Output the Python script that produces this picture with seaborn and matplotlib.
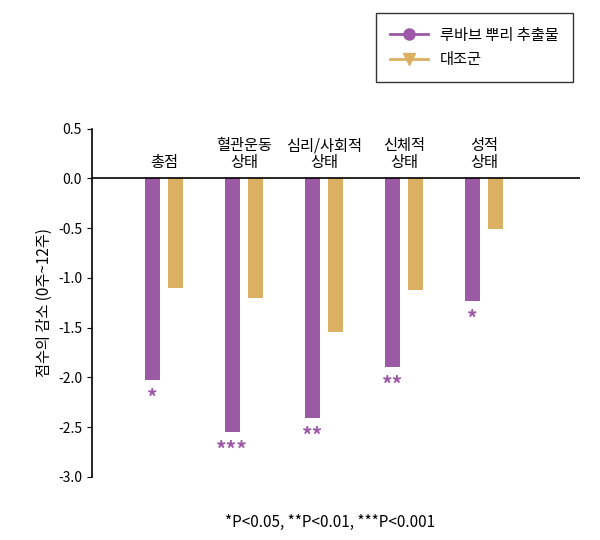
import matplotlib
matplotlib.use("Agg")
import matplotlib.pyplot as plt
import seaborn as sns
import pandas as pd
import numpy as np
from matplotlib.lines import Line2D

plt.rcParams["font.family"] = ["Noto Sans CJK KR", "Noto Sans CJK JP", "Noto Sans CJK SC", "DejaVu Sans"]

categories = ["총점", "혈관운동\n상태", "심리/사회적\n상태", "신체적\n상태", "성적\n상태"]
treat = [-2.03, -2.55, -2.41, -1.90, -1.23]
control = [-1.10, -1.20, -1.54, -1.12, -0.51]
stars = ["*", "***", "**", "**", "*"]
purple = "#9c59a5"
gold = "#dcb062"

fig = plt.figure(figsize=(6, 5.4), dpi=100)
ax = fig.add_axes([0.153, 0.117, 0.814, 0.645])
x = np.arange(len(categories))
ax.bar(x - 0.145, treat, width=0.19, color=purple)
ax.bar(x + 0.145, control, width=0.19, color=gold)
ax.axhline(0, color="black", lw=1.2)
for xi, c in zip(x, categories):
    ax.text(xi, 0.07, c, ha="center", va="bottom", fontsize=11, linespacing=1.0)
for xi, v, s in zip(x, treat, stars):
    ax.text(xi - 0.145, v - 0.08, s, ha="center", va="top", color=purple, fontsize=15, fontweight="bold")
ax.set_xlim(-0.9, 5.2)
ax.set_ylim(-3.0, 0.5)
ax.set_yticks(np.arange(-3.0, 0.51, 0.5))
ax.set_yticklabels([f"{t:.1f}" for t in np.arange(-3.0, 0.51, 0.5)], fontsize=10)
ax.set_xticks([])
ax.set_ylabel("점수의 감소 (0주~12주)", fontsize=11)
sns.despine(ax=ax, right=True, top=True, bottom=True)
ax.spines["left"].set_linewidth(1.2)
handles = [Line2D([0], [0], color=purple, marker="o", lw=2, markersize=8),
           Line2D([0], [0], color=gold, marker="v", lw=2, markersize=8)]
leg = fig.legend(handles, ["루바브 뿌리 추출물", "대조군"], loc="upper right",
                 bbox_to_anchor=(0.967, 0.99), fontsize=11, frameon=True,
                 fancybox=False, edgecolor="black", borderpad=0.9, handlelength=2.5)
fig.text(0.55, 0.025, "*P<0.05, **P<0.01, ***P<0.001", ha="center", fontsize=11)
fig.savefig("out.png", dpi=100, facecolor="white")
